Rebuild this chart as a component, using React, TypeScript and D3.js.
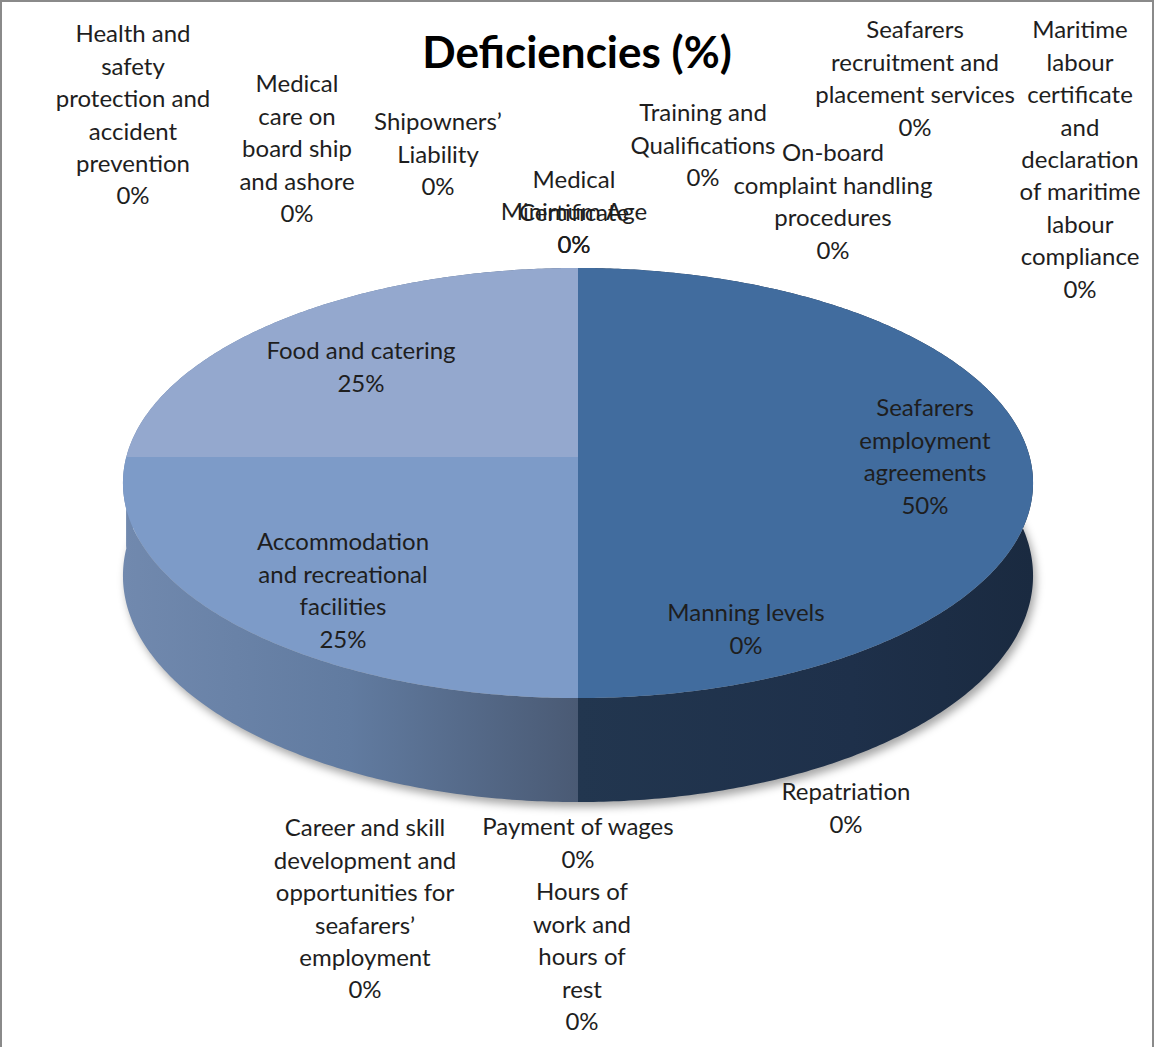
import React, { useEffect, useRef } from 'react';
import * as d3 from 'd3';

// slices in drawing order, clockwise from 12 o'clock
const categories = [
  'Minimum Age',
  'Medical Certificate',
  'Training and Qualifications',
  'Seafarers recruitment and placement services',
  'Maritime labour certificate and declaration of maritime labour compliance',
  'On-board complaint handling procedures',
  'Seafarers employment agreements',
  'Manning levels',
  'Repatriation',
  'Hours of work and hours of rest',
  'Payment of wages',
  'Career and skill development and opportunities for seafarers\u2019 employment',
  'Accommodation and recreational facilities',
  'Food and catering',
  'Health and safety protection and accident prevention',
  'Medical care on board ship and ashore',
  'Shipowners\u2019 Liability',
];
const values = [0, 0, 0, 0, 0, 0, 50, 0, 0, 0, 0, 0, 25, 25, 0, 0, 0];

// wrapped label lines
const labelLines: Record<string, string[]> = {
  'Minimum Age': ['Minimum Age'],
  'Medical Certificate': ['Medical', 'Certificate'],
  'Training and Qualifications': ['Training and', 'Qualifications'],
  'Seafarers recruitment and placement services': ['Seafarers', 'recruitment and', 'placement services'],
  'Maritime labour certificate and declaration of maritime labour compliance': ['Maritime', 'labour', 'certificate', 'and', 'declaration', 'of maritime', 'labour', 'compliance'],
  'On-board complaint handling procedures': ['On-board', 'complaint handling', 'procedures'],
  'Seafarers employment agreements': ['Seafarers', 'employment', 'agreements'],
  'Manning levels': ['Manning levels'],
  'Repatriation': ['Repatriation'],
  'Hours of work and hours of rest': ['Hours of', 'work and', 'hours of', 'rest'],
  'Payment of wages': ['Payment of wages'],
  'Career and skill development and opportunities for seafarers\u2019 employment': ['Career and skill', 'development and', 'opportunities for', 'seafarers\u2019', 'employment'],
  'Accommodation and recreational facilities': ['Accommodation', 'and recreational', 'facilities'],
  'Food and catering': ['Food and catering'],
  'Health and safety protection and accident prevention': ['Health and', 'safety', 'protection and', 'accident', 'prevention'],
  'Medical care on board ship and ashore': ['Medical', 'care on', 'board ship', 'and ashore'],
  'Shipowners\u2019 Liability': ['Shipowners\u2019', 'Liability'],
};

// label placement: centre x, centre y of first line
const labelPos: Record<string, [number, number]> = {
  'Minimum Age': [574, 212],
  'Medical Certificate': [574, 180],
  'Training and Qualifications': [703, 113],
  'Seafarers recruitment and placement services': [915, 30],
  'Maritime labour certificate and declaration of maritime labour compliance': [1080, 30],
  'On-board complaint handling procedures': [833, 153],
  'Seafarers employment agreements': [925, 408],
  'Manning levels': [746, 613],
  'Repatriation': [846, 792],
  'Hours of work and hours of rest': [582, 892],
  'Payment of wages': [578, 827],
  'Career and skill development and opportunities for seafarers\u2019 employment': [365, 828],
  'Accommodation and recreational facilities': [343, 542],
  'Food and catering': [361, 351],
  'Health and safety protection and accident prevention': [133, 34],
  'Medical care on board ship and ashore': [297, 84],
  'Shipowners\u2019 Liability': [438, 122],
};

const topColors: Record<string, string> = {
  'Seafarers employment agreements': '#416c9e',
  'Accommodation and recreational facilities': '#7d9bc8',
  'Food and catering': '#94a8ce',
};

const W = 1155;
const H = 1047;

const App = () => {
  const ref = useRef<SVGSVGElement>(null);

  useEffect(() => {
    document.body.style.margin = '0';
    const svg = d3.select(ref.current);
    svg.selectAll('*').remove();

    const cx = 578, cy = 457, R = 451.7, B = 211.9, p = 0.121, depth = 91.4;
    const proj = (a: number, h: number): [number, number] => {
      const u = Math.sin(a), v = Math.cos(a);
      const k = 1 / (1 + p * v);
      return [cx + R * u * k, cy - B * v * k + depth * k * h];
    };
    const arcPts = (a0: number, a1: number, h: number) => {
      const n = Math.max(2, Math.ceil(Math.abs(a1 - a0) / 0.01));
      return d3.range(n + 1).map(i => proj(a0 + (a1 - a0) * i / n, h));
    };
    const line = d3.line();

    const data = categories.map((name, i) => ({ name, value: values[i] }));
    const pie = d3.pie<{ name: string; value: number }>()
      .value(d => d.value)
      .sort(null);
    const arcs = pie(data);

    const defs = svg.append('defs');
    const gl = defs.append('linearGradient').attr('id', 'wallL')
      .attr('gradientUnits', 'userSpaceOnUse')
      .attr('x1', cx - R - 4).attr('x2', cx).attr('y1', 0).attr('y2', 0);
    gl.append('stop').attr('offset', 0).attr('stop-color', '#7189ae');
    gl.append('stop').attr('offset', 0.5).attr('stop-color', '#617ba0');
    gl.append('stop').attr('offset', 1).attr('stop-color', '#4a5a74');
    const gr = defs.append('linearGradient').attr('id', 'wallR')
      .attr('gradientUnits', 'userSpaceOnUse')
      .attr('x1', cx).attr('x2', cx + R + 4).attr('y1', 0).attr('y2', 0);
    gr.append('stop').attr('offset', 0).attr('stop-color', '#22364f');
    gr.append('stop').attr('offset', 0.6).attr('stop-color', '#1e304a');
    gr.append('stop').attr('offset', 1).attr('stop-color', '#1a2a40');
    defs.append('filter').attr('id', 'blur')
      .attr('x', '-10%').attr('y', '-10%').attr('width', '120%').attr('height', '130%')
      .append('feGaussianBlur').attr('stdDeviation', 4);

    // shadow
    svg.append('path')
      .attr('d', line(arcPts(0, 2 * Math.PI, 1)) + 'Z')
      .attr('transform', 'translate(3,5)')
      .attr('fill', 'rgba(0,0,0,0.35)')
      .attr('filter', 'url(#blur)');

    const live = arcs.filter(d => d.value > 0);

    // walls
    svg.append('g').selectAll('path')
      .data(live)
      .join('path')
      .attr('d', d => {
        const top = arcPts(d.startAngle, d.endAngle, 0);
        const bot = arcPts(d.endAngle, d.startAngle, 1);
        return line(top.concat(bot)) + 'Z';
      })
      .attr('fill', d => ((d.startAngle + d.endAngle) / 2 < Math.PI ? 'url(#wallR)' : 'url(#wallL)'));

    // top faces
    svg.append('g').selectAll('path')
      .data(live)
      .join('path')
      .attr('d', d => line(([[cx, cy]] as [number, number][]).concat(arcPts(d.startAngle, d.endAngle, 0))) + 'Z')
      .attr('fill', d => topColors[d.data.name]);

    // labels
    const lh = 32.4;
    const labels = svg.append('g')
      .attr('font-family', 'Lato, "Open Sans", sans-serif')
      .attr('font-size', 24)
      .attr('fill', '#1e1e1e')
      .attr('text-anchor', 'middle');
    arcs.forEach(d => {
      const [x, y] = labelPos[d.data.name];
      const lines = labelLines[d.data.name].concat([`${d.data.value}%`]);
      const t = labels.append('text');
      lines.forEach((s, i) => {
        t.append('tspan').attr('x', x).attr('y', y + i * lh).attr('dy', '0.35em').text(s);
      });
    });

    svg.append('text')
      .attr('x', 577).attr('y', 68)
      .attr('text-anchor', 'middle')
      .attr('font-family', 'Lato, "Open Sans", sans-serif')
      .attr('font-weight', 'bold')
      .attr('font-size', 44)
      .attr('fill', '#000')
      .text('Deficiencies (%)');

    svg.append('rect')
      .attr('x', 1).attr('y', 1)
      .attr('width', W - 3).attr('height', H + 20)
      .attr('fill', 'none')
      .attr('stroke', '#8a8a8a')
      .attr('stroke-width', 2);
  }, []);

  return (
    <div style={{ position: 'absolute', left: 0, top: 0 }}>
      <svg ref={ref} width={W} height={H} style={{ display: 'block', background: '#fff' }} />
    </div>
  );
};

export default App;
